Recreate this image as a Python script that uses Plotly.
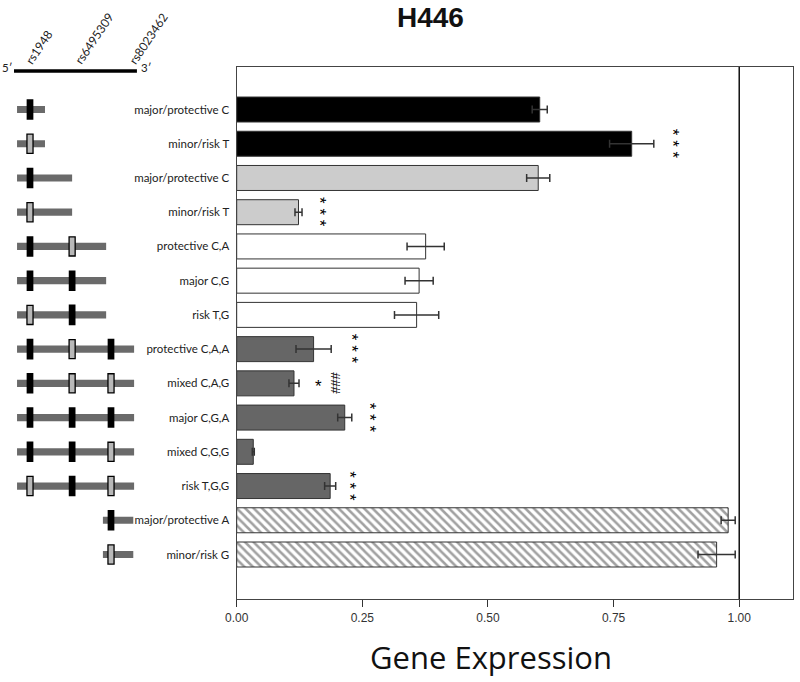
import plotly.graph_objects as go

# ---------------- data ----------------
categories = ["major/protective C", "minor/risk T", "major/protective C", "minor/risk T",
              "protective C,A", "major C,G", "risk T,G",
              "protective C,A,A", "mixed C,A,G", "major C,G,A", "mixed C,G,G", "risk T,G,G",
              "major/protective A", "minor/risk G"]
expression = [0.603, 0.786, 0.600, 0.123, 0.376, 0.363, 0.358,
              0.153, 0.114, 0.215, 0.033, 0.186, 0.978, 0.955]
errors = [0.015, 0.044, 0.023, 0.007, 0.037, 0.028, 0.044,
          0.035, 0.010, 0.014, 0.002, 0.011, 0.014, 0.037]
bar_colors = ["#000000", "#000000", "#cccccc", "#cccccc", "#ffffff", "#ffffff", "#ffffff",
              "#666666", "#666666", "#666666", "#666666", "#666666", "#ffffff", "#ffffff"]
bar_patterns = [""] * 12 + ["\\", "\\"]

# gene diagram (schematic units, SNP positions 1..3)
snp_names = ["rs1948", "rs6495309", "rs8023462"]
snp_pos = [1.0, 2.04, 3.0]
region_start = [0.68] * 12 + [2.80, 2.80]
region_end = [1.37, 1.37, 2.04, 2.04, 2.88, 2.88, 2.88, 3.57, 3.57, 3.57, 3.57, 3.57, 3.55, 3.55]
# B = major allele (black box), G = minor allele (grey box), "" = not present
alleles = [["B", "", ""], ["G", "", ""], ["B", "", ""], ["G", "", ""],
           ["B", "G", ""], ["B", "B", ""], ["G", "B", ""],
           ["B", "G", "B"], ["B", "G", "G"], ["B", "B", "B"], ["B", "B", "G"], ["G", "B", "G"],
           ["", "", "B"], ["", "", "G"]]

# significance marks
sig_rows = [1, 3, 7, 8, 8, 9, 11]
sig_x = [0.866, 0.166, 0.230, 0.163, 0.196, 0.265, 0.225]
sig_text = ["* * *", "* * *", "* * *", "*", "###", "* * *", "* * *"]
sig_angle = [90, 90, 90, 0, 90, 90, 90]

xticks = [0.0, 0.25, 0.5, 0.75, 1.0]

# ---------------- figure ----------------
rows = list(range(len(categories)))
fig = go.Figure()
fig.add_trace(go.Bar(
    y=rows, x=expression, orientation="h", width=0.73,
    marker=dict(color=bar_colors, line=dict(color="#333333", width=1),
                pattern=dict(shape=bar_patterns, fgcolor="#333333", bgcolor="#ffffff",
                             size=6, solidity=0.42)),
    error_x=dict(type="data", array=errors, color="#333333", thickness=1.5, width=4),
    xaxis="x", yaxis="y", showlegend=False, hoverinfo="skip"))

# invisible trace to create the diagram subplot
fig.add_trace(go.Scatter(x=[snp_pos[0]], y=[0], mode="markers", marker=dict(opacity=0),
                         xaxis="x2", yaxis="y", showlegend=False, hoverinfo="skip"))

shapes = []
# gene line at top
shapes.append(dict(type="line", xref="x2", yref="y", x0=0.605, x1=3.64, y0=-1.125, y1=-1.125,
                   line=dict(color="black", width=3.3)))
for i in rows:
    shapes.append(dict(type="rect", xref="x2", yref="y",
                       x0=region_start[i], x1=region_end[i], y0=i - 0.105, y1=i + 0.105,
                       fillcolor="#6a6a6a", line=dict(width=0)))
    for k, a in enumerate(alleles[i]):
        if not a:
            continue
        if a == "B":
            shapes.append(dict(type="rect", xref="x2", yref="y",
                               x0=snp_pos[k] - 0.083, x1=snp_pos[k] + 0.083,
                               y0=i - 0.3, y1=i + 0.3, fillcolor="black", line=dict(width=0)))
        else:
            shapes.append(dict(type="rect", xref="x2", yref="y",
                               x0=snp_pos[k] - 0.075, x1=snp_pos[k] + 0.075,
                               y0=i - 0.28, y1=i + 0.28, fillcolor="#b8b8b8",
                               line=dict(color="black", width=1.3)))
# reference line at 1.00
shapes.append(dict(type="line", xref="x", yref="paper", x0=1.0, x1=1.0, y0=0, y1=1,
                   line=dict(color="#111111", width=1.5)))

annotations = []
for name, p, dx in zip(snp_names, snp_pos, [-0.17, 0.02, 0.40]):
    annotations.append(dict(text=name, xref="x2", yref="y", x=p + dx - 0.1, y=-1.17,
                            xanchor="left", yanchor="bottom", showarrow=False, textangle=-56,
                            font=dict(family="Lato", size=12, color="#222")))
annotations.append(dict(text="5′", xref="x2", yref="y", x=0.60, y=-1.22, xanchor="right",
                        yanchor="middle", showarrow=False, font=dict(family="Lato", size=11.5, color="#222")))
annotations.append(dict(text="3′", xref="x2", yref="y", x=3.68, y=-1.22, xanchor="left",
                        yanchor="middle", showarrow=False, font=dict(family="Lato", size=11.5, color="#222")))
for r, xv, t, ang in zip(sig_rows, sig_x, sig_text, sig_angle):
    annotations.append(dict(text=t, xref="x", yref="y", x=xv, y=r, showarrow=False,
                            textangle=ang, yshift=(-3 if ang == 0 else 0),
                            font=dict(family="Liberation Sans", size=17 if t != "###" else 13,
                                      color="#000")))
annotations.append(dict(text="Gene Expression", xref="paper", yref="paper", x=0.619, y=-0.109,
                        xanchor="center", yanchor="middle", showarrow=False,
                        font=dict(family="Open Sans", size=31, color="#111")))

fig.update_layout(
    width=800, height=682,
    margin=dict(l=0, r=7, t=67, b=83, autoexpand=False),
    paper_bgcolor="white", plot_bgcolor="white",
    title=dict(text="<b>H446</b>", x=0.538, xref="container", xanchor="center",
               y=0.975, yref="container", yanchor="middle", automargin=False,
               font=dict(family="Liberation Sans", size=28, color="#111")),
    xaxis=dict(domain=[236.7 / 793, 1], range=[0, 1.107], tickvals=xticks, tickformat=".2f",
               ticks="outside", ticklen=7, tickcolor="#333", showline=True, mirror=True,
               linecolor="#444", linewidth=1.3, showgrid=False, zeroline=False, automargin=False,
               tickfont=dict(family="Liberation Sans", size=12, color="#333")),
    xaxis2=dict(domain=[0, 0.2], range=[0.2593, 4.175], visible=False, anchor="y",
                automargin=False),
    yaxis=dict(range=[14.30, -1.242], tickvals=rows, ticktext=categories, ticks="",
               showline=True, mirror=True, linecolor="#444", linewidth=1.3, showgrid=False,
               zeroline=False, anchor="x", ticklabelstandoff=4, automargin=False,
               tickfont=dict(family="Lato", size=11.5, color="#222")),
    shapes=shapes, annotations=annotations, bargap=0.27,
)

fig.write_html("out.html", config={"displayModeBar": False},
               post_script="document.body.style.margin='0';document.body.style.overflow='hidden';")
